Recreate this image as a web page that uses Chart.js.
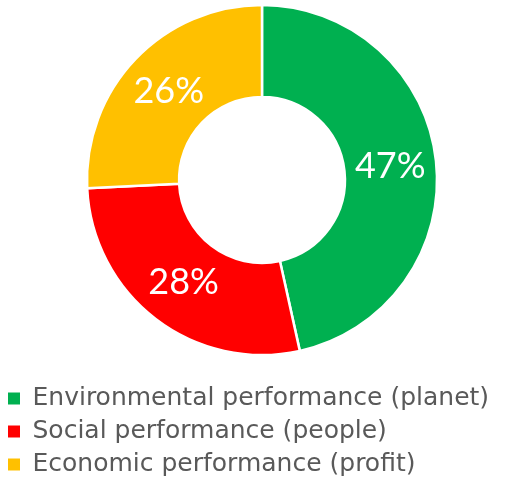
<!DOCTYPE html>
<html>
<head>
<meta charset="utf-8">
<script src="https://cdn.jsdelivr.net/npm/chart.js@4/dist/chart.umd.min.js"></script>
<style>
    body { margin: 0; background: #fff; }
    #wrap { width: 508px; height: 478px; position: relative; }
</style>
</head>
<body>
<div id="wrap"><canvas id="perfChart"></canvas></div>
<script>
// Chart data
const categories = ['Environmental performance (planet)', 'Social performance (people)', 'Economic performance (profit)'];
const shares = [47, 28, 26];
const sliceColors = ['#00B050', '#FF0000', '#FFC000'];

/**
 * Draw percentage labels in the middle of each slice
 */
const sliceLabels = {
    id: 'sliceLabels',
    afterDatasetsDraw(chart) {
        const ctx = chart.ctx;
        const meta = chart.getDatasetMeta(0);
        ctx.save();
        ctx.font = '36px Lato';
        ctx.fillStyle = '#ffffff';
        ctx.textAlign = 'center';
        ctx.textBaseline = 'middle';
        meta.data.forEach((arc, i) => {
            const pos = arc.tooltipPosition();
            ctx.fillText(shares[i] + '%', pos.x, pos.y);
        });
        ctx.restore();
    }
};

/**
 * Nudge the plot area and legend to where the original has them
 */
const layoutNudge = {
    id: 'layoutNudge',
    afterLayout(chart) {
        const area = chart.chartArea;
        area.left += 16;
        area.top -= 9;
        area.width = area.right - area.left;
        area.height = area.bottom - area.top;
        chart.legend.top += 9;
        chart.legend.bottom += 9;
    }
};

const ctx = document.getElementById('perfChart').getContext('2d');
const chart = new Chart(ctx, {
    type: 'doughnut',
    data: {
        labels: categories,
        datasets: [{
            data: shares,
            backgroundColor: sliceColors,
            borderColor: '#ffffff',
            borderWidth: 2.5,
            radius: 175,
            cutout: 89
        }]
    },
    options: {
        responsive: true,
        maintainAspectRatio: false,
        animation: false,
        plugins: {
            tooltip: { enabled: false },
            legend: {
                position: 'bottom',
                align: 'start',
                labels: {
                    color: '#595959',
                    font: { family: 'DejaVu Sans', size: 25 },
                    boxWidth: 12,
                    boxHeight: 12,
                    padding: 8,
                    generateLabels(chart) {
                        return Chart.overrides.doughnut.plugins.legend.labels.generateLabels(chart)
                            .map(item => Object.assign(item, { lineWidth: 0 }));
                    }
                }
            }
        }
    },
    plugins: [sliceLabels, layoutNudge]
});
</script>
</body>
</html>
